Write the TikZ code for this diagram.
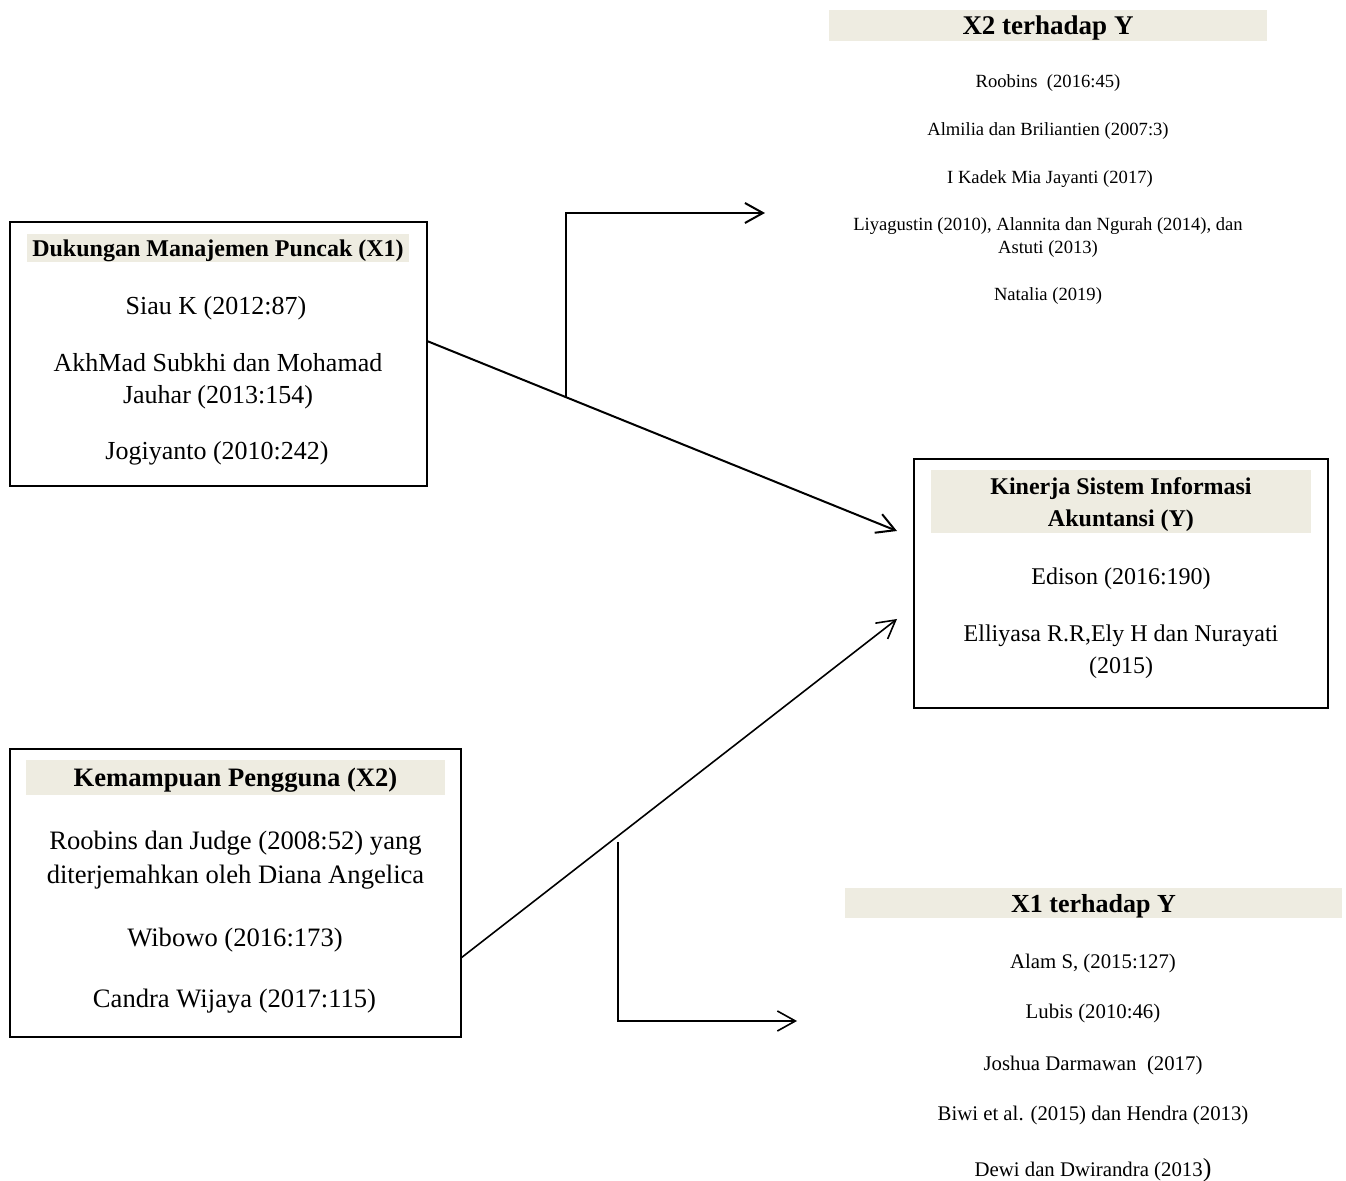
\documentclass[tikz,border=0pt]{standalone}
\usepackage{fontspec}
\setmainfont{Liberation Serif}
\usetikzlibrary{arrows.meta, positioning}
\definecolor{tanband}{HTML}{EEECE1}

\begin{document}
\begin{tikzpicture}[x=0.5pt, y=-0.5pt,
    box/.style  = {draw, line width=1pt, inner sep=0pt, outer sep=0pt},
    band/.style = {fill=tanband, inner sep=0pt},
    hdr/.style  = {inner sep=0pt, yshift=-1.5pt, align=center, font=\bfseries\fontsize{12}{16}\selectfont},
    ref/.style  = {inner sep=0pt, yshift=-1.5pt, align=center, font=\fontsize{13}{16}\selectfont},
    lit/.style  = {inner sep=0pt, yshift=-1.5pt, align=center, font=\fontsize{9.3}{11.5}\selectfont},
    arr/.style  = {-{Straight Barb[length=9pt, width=10pt]}, line width=1pt}]

\useasboundingbox (0,0) rectangle (1346,1181);

% X1 box
\node (x1box)  [box, minimum width=208.5pt, minimum height=132pt] at (218.5,354) {};
\node (x1band) [band, minimum width=191pt, minimum height=14pt] at (218,248) {};
\node (x1head) [hdr] at (x1band) {Dukungan Manajemen Puncak (X1)};
\node (x1a) [ref] at (216,305) {Siau K (2012:87)};
\node (x1b) [ref] at (218,378) {AkhMad Subkhi dan Mohamad\\Jauhar (2013:154)};
\node (x1c) [ref] at (217,450) {Jogiyanto (2010:242)};

% Y box
\node (ybox)  [box, minimum width=207pt, minimum height=124.5pt] at (1121,583.5) {};
\node (yband) [band, minimum width=190pt, minimum height=31.5pt] at (1121,501.5) {};
\node (yhead) [hdr] at (yband) {Kinerja Sistem Informasi\\Akuntansi (Y)};
\node (ya) [ref, font=\fontsize{12}{16}\selectfont] at (1121,576) {Edison (2016:190)};
\node (yb) [ref, font=\fontsize{12}{16}\selectfont] at (1121,649) {Elliyasa R.R,Ely H dan Nurayati\\(2015)};

% X2 box
\node (x2box)  [box, line width=0.75pt, minimum width=225.5pt, minimum height=144pt] at (235.5,893) {};
\node (x2band) [band, minimum width=209.5pt, minimum height=17.5pt] at (235.5,777.5) {};
\node (x2head) [hdr, font=\bfseries\fontsize{13.3}{16}\selectfont] at (x2band) {Kemampuan Pengguna (X2)};
\node (x2a) [ref, font=\fontsize{13.3}{17}\selectfont] at (235.5,857.5) {Roobins dan Judge (2008:52) yang\\diterjemahkan oleh Diana Angelica};
\node (x2b) [ref, font=\fontsize{13.3}{17}\selectfont] at (235,937) {Wibowo (2016:173)};
\node (x2c) [ref, font=\fontsize{13.3}{17}\selectfont] at (234.5,998) {Candra Wijaya (2017:115)};

% X2 terhadap Y
\node (x2yband) [band, minimum width=219pt, minimum height=15.5pt] at (1048,25.5) {};
\node (x2yhead) [hdr, font=\bfseries\fontsize{13.5}{16}\selectfont] at (x2yband) {X2 terhadap Y};
\node (x2y1) [lit] at (1048,80)    {Roobins\ \ (2016:45)};
\node (x2y2) [lit] at (1048,128)   {Almilia dan Briliantien (2007:3)};
\node (x2y3) [lit] at (1050,176)   {I Kadek Mia Jayanti (2017)};
\node (x2y4) [lit] at (1048,234.5) {Liyagustin (2010), Alannita dan Ngurah (2014), dan\\Astuti (2013)};
\node (x2y5) [lit] at (1048,293)   {Natalia (2019)};

% X1 terhadap Y
\node (x1yband) [band, minimum width=248.5pt, minimum height=15pt] at (1093.5,903) {};
\node (x1yhead) [hdr, font=\bfseries\fontsize{13}{16}\selectfont] at (x1yband) {X1 terhadap Y};
\node (x1y1) [lit, font=\fontsize{10.4}{12.5}\selectfont] at (1093,960)  {Alam S, (2015:127)};
\node (x1y2) [lit, font=\fontsize{10.4}{12.5}\selectfont] at (1093,1010) {Lubis (2010:46)};
\node (x1y3) [lit, font=\fontsize{10.4}{12.5}\selectfont] at (1093,1062) {Joshua Darmawan\ \ (2017)};
\node (x1y4) [lit, font=\fontsize{10.4}{12.5}\selectfont] at (1093,1112) {Biwi et al. (2015) dan Hendra (2013)};
\node (x1y5) [lit, font=\fontsize{10.4}{12.5}\selectfont] at (1093,1167) {Dewi dan Dwirandra (2013{\fontsize{13}{14}\selectfont)}};

% connectors
\coordinate (x1out) at ([yshift=6.5pt]x1box.east);
\coordinate (yin1)  at ([xshift=-8.5pt, yshift=26.25pt]ybox.west);
\coordinate (x2out) at ([yshift=-32.5pt]x2box.east);
\coordinate (yin2)  at ([xshift=-8.5pt, yshift=-17.75pt]ybox.west);
\coordinate (tip1)  at (765,213);
\coordinate (tip2)  at (797,1021);
\path (x1out) -- (yin1) coordinate[pos=0.296] (fork1);
\path (x2out) -- (yin2) coordinate[pos=0.36] (fork2);

\draw [arr] (x1out) -- (yin1);
\draw [arr] (fork1) |- (tip1);
\draw [arr, line width=0.8pt] (x2out) -- (yin2);
\draw [arr, line width=0.8pt] ([yshift=-3pt]fork2) |- (tip2);

\end{tikzpicture}
\end{document}
